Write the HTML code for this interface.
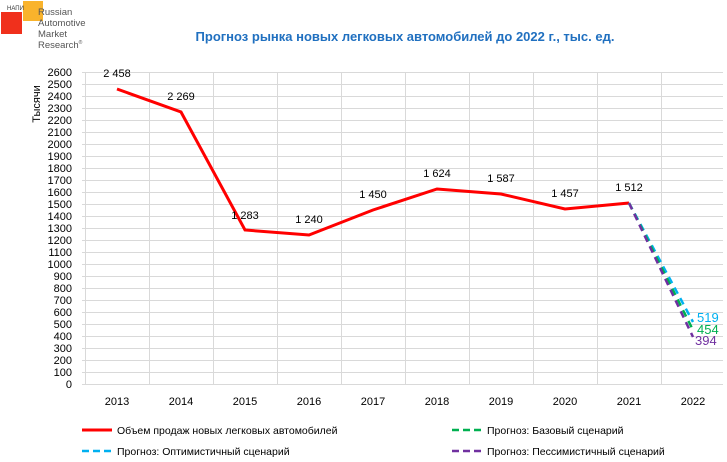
<!DOCTYPE html>
<html><head><meta charset="utf-8"><style>
body{margin:0;background:#fff;}
svg{display:block;font-family:"Liberation Sans",sans-serif;}
</style></head><body>
<svg width="727" height="462" viewBox="0 0 727 462">
<rect x="1" y="12" width="21" height="22" fill="#f0301c"/>
<rect x="23" y="1" width="20" height="20" fill="#f9b32c"/>
<text x="7" y="10" font-size="6" fill="#333">НАПИ</text>
<g font-size="9.5" fill="#555"><text x="38" y="15">Russian</text><text x="38" y="26">Automotive</text><text x="38" y="37">Market</text><text x="38" y="48">Research<tspan font-size="5" dy="-4">®</tspan></text></g>
<text x="405" y="41" font-size="13" font-weight="bold" fill="#2070c0" text-anchor="middle">Прогноз рынка новых легковых автомобилей до 2022 г., тыс. ед.</text>
<g stroke="#d9d9d9" stroke-width="1">
<line x1="82" y1="72.5" x2="723" y2="72.5"/><line x1="82" y1="84.5" x2="723" y2="84.5"/><line x1="82" y1="96.5" x2="723" y2="96.5"/><line x1="82" y1="108.5" x2="723" y2="108.5"/><line x1="82" y1="120.5" x2="723" y2="120.5"/><line x1="82" y1="132.5" x2="723" y2="132.5"/><line x1="82" y1="144.5" x2="723" y2="144.5"/><line x1="82" y1="156.5" x2="723" y2="156.5"/><line x1="82" y1="168.5" x2="723" y2="168.5"/><line x1="82" y1="180.5" x2="723" y2="180.5"/><line x1="82" y1="192.5" x2="723" y2="192.5"/><line x1="82" y1="204.5" x2="723" y2="204.5"/><line x1="82" y1="216.5" x2="723" y2="216.5"/><line x1="82" y1="228.5" x2="723" y2="228.5"/><line x1="82" y1="240.5" x2="723" y2="240.5"/><line x1="82" y1="252.5" x2="723" y2="252.5"/><line x1="82" y1="264.5" x2="723" y2="264.5"/><line x1="82" y1="276.5" x2="723" y2="276.5"/><line x1="82" y1="288.5" x2="723" y2="288.5"/><line x1="82" y1="300.5" x2="723" y2="300.5"/><line x1="82" y1="312.5" x2="723" y2="312.5"/><line x1="82" y1="324.5" x2="723" y2="324.5"/><line x1="82" y1="336.5" x2="723" y2="336.5"/><line x1="82" y1="348.5" x2="723" y2="348.5"/><line x1="82" y1="360.5" x2="723" y2="360.5"/><line x1="82" y1="372.5" x2="723" y2="372.5"/><line x1="82" y1="384.5" x2="723" y2="384.5"/>
<line x1="85.5" y1="72" x2="85.5" y2="384"/><line x1="149.5" y1="72" x2="149.5" y2="384"/><line x1="213.5" y1="72" x2="213.5" y2="384"/><line x1="277.5" y1="72" x2="277.5" y2="384"/><line x1="341.5" y1="72" x2="341.5" y2="384"/><line x1="405.5" y1="72" x2="405.5" y2="384"/><line x1="469.5" y1="72" x2="469.5" y2="384"/><line x1="533.5" y1="72" x2="533.5" y2="384"/><line x1="597.5" y1="72" x2="597.5" y2="384"/><line x1="661.5" y1="72" x2="661.5" y2="384"/>
</g>
<g font-size="11" fill="#000" text-anchor="end">
<text x="72" y="76">2600</text><text x="72" y="88">2500</text><text x="72" y="100">2400</text><text x="72" y="112">2300</text><text x="72" y="124">2200</text><text x="72" y="136">2100</text><text x="72" y="148">2000</text><text x="72" y="160">1900</text><text x="72" y="172">1800</text><text x="72" y="184">1700</text><text x="72" y="196">1600</text><text x="72" y="208">1500</text><text x="72" y="220">1400</text><text x="72" y="232">1300</text><text x="72" y="244">1200</text><text x="72" y="256">1100</text><text x="72" y="268">1000</text><text x="72" y="280">900</text><text x="72" y="292">800</text><text x="72" y="304">700</text><text x="72" y="316">600</text><text x="72" y="328">500</text><text x="72" y="340">400</text><text x="72" y="352">300</text><text x="72" y="364">200</text><text x="72" y="376">100</text><text x="72" y="388">0</text>
</g>
<text transform="translate(40,104) rotate(-90)" font-size="11" text-anchor="middle">Тысячи</text>
<g font-size="11" text-anchor="middle">
<text x="117" y="405">2013</text><text x="181" y="405">2014</text><text x="245" y="405">2015</text><text x="309" y="405">2016</text><text x="373" y="405">2017</text><text x="437" y="405">2018</text><text x="501" y="405">2019</text><text x="565" y="405">2020</text><text x="629" y="405">2021</text><text x="693" y="405">2022</text>
</g>
<polyline points="117,89 181,112 245,230 309,235 373,210 437,189 501,194 565,209 629,203" fill="none" stroke="#ff0000" stroke-width="3"/>
<g fill="none" stroke-width="2.5" stroke-dasharray="7,5">
<line x1="629" y1="203" x2="693" y2="322" stroke="#00b0f0"/>
<line x1="629" y1="203" x2="693" y2="330" stroke="#00b050"/>
<line x1="629" y1="203" x2="693" y2="337" stroke="#7030a0"/>
</g>
<g font-size="11" text-anchor="middle">
<text x="117" y="77">2 458</text><text x="181" y="100">2 269</text><text x="245" y="219">1 283</text><text x="309" y="223">1 240</text><text x="373" y="198">1 450</text><text x="437" y="177">1 624</text><text x="501" y="182">1 587</text><text x="565" y="197">1 457</text><text x="629" y="191">1 512</text>
</g>
<g font-size="13">
<text x="697" y="322" fill="#00b0f0">519</text><text x="697" y="334" fill="#00b050">454</text><text x="695" y="345" fill="#7030a0">394</text>
</g>
<line x1="82" y1="430" x2="112" y2="430" stroke="#ff0000" stroke-width="3"/>
<text x="117" y="434" font-size="10.5">Объем продаж новых легковых автомобилей</text>
<line x1="452" y1="430" x2="482" y2="430" stroke="#00b050" stroke-width="2.5" stroke-dasharray="7,4"/>
<text x="487" y="434" font-size="10.5">Прогноз: Базовый сценарий</text>
<line x1="82" y1="451" x2="112" y2="451" stroke="#00b0f0" stroke-width="2.5" stroke-dasharray="7,4"/>
<text x="117" y="455" font-size="10.5">Прогноз: Оптимистичный сценарий</text>
<line x1="452" y1="451" x2="482" y2="451" stroke="#7030a0" stroke-width="2.5" stroke-dasharray="7,4"/>
<text x="487" y="455" font-size="10.5">Прогноз: Пессимистичный сценарий</text>
</svg>
</body></html>
